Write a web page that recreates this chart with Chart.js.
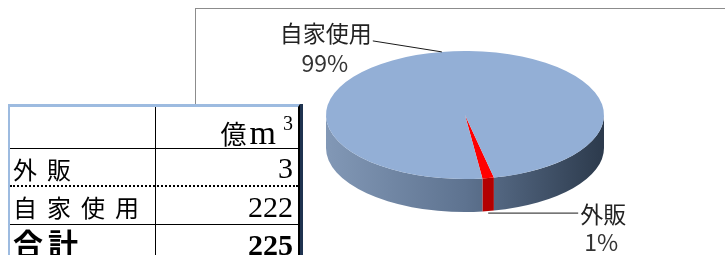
<!DOCTYPE html>
<html>
<head>
<meta charset="utf-8">
<script src="https://cdn.jsdelivr.net/npm/chart.js@4/dist/chart.umd.min.js"></script>
<style>
  html, body { margin: 0; padding: 0; background: #fff; overflow: hidden; }
  body { width: 725px; height: 255px; position: relative; }
  #frame {
    position: absolute; left: 195px; top: 8px; width: 600px; height: 300px;
    border-left: 1px solid #8c8c8c; border-top: 1px solid #8c8c8c;
  }
  #wrap { position: absolute; left: 196px; top: 9px; width: 529px; height: 246px; }
  #tbl {
    position: absolute; left: 8px; top: 104px; width: 288px; height: 170px;
    background: #fff; border-top: 3px solid #9dbbe0; border-left: 2px solid #9dbbe0;
    border-right: 2px solid #000; box-shadow: 3px 0 0 #1f3350;
    font-family: "Noto Sans CJK JP", sans-serif; color: #000;
  }
  .row { position: absolute; left: 0; width: 288px; box-sizing: border-box; }
  .row div { position: absolute; top: 0; bottom: 0; display: flex; align-items: center; line-height: 1; white-space: nowrap; }
  .c1 { left: 3px; font-size: 24px; letter-spacing: 10px; padding-top: 3px; }
  .c2 { right: 5px; font-family: "Liberation Serif", serif; font-size: 30px; padding-top: 2px; }
  #colline { position: absolute; left: 145px; top: 0; width: 1px; height: 170px; background: #000; }
  .h { top: 0; height: 42px; border-bottom: 1px solid #000; }
  .h .c2 { font-family: "Noto Sans CJK JP", sans-serif; font-size: 26px; align-items: flex-end; padding-bottom: 2px; }
  .h .unit { font-family: "Liberation Serif", serif; font-size: 34px; margin-left: 3px; line-height: 0.8; }
  .h sup { font-family: "Liberation Serif", serif; font-size: 20px; position: relative; top: -13px; margin-left: 7px; vertical-align: baseline; }
  .r1 { top: 42px; height: 38px; border-bottom: 2px dotted #000; }
  .r2 { top: 80px; height: 38px; border-bottom: 1px solid #000; }
  .r3 { top: 118px; height: 40px; font-weight: bold; }
  .r3 div { align-items: flex-start; }
  .r3 .c1 { font-size: 30px; letter-spacing: 5px; padding-top: 2px; }
  .r3 .c2 { padding-top: 5px; }
</style>
</head>
<body>
<div id="frame"></div>
<div id="wrap"><canvas id="pie"></canvas></div>
<div id="tbl"></div>
<script>
const categories = ['外販', '自家使用'];
const values = [3, 222];
const unitLabel = ['億', 'm', '3'];
const totalLabel = '合計';

const total = values.reduce((s, v) => s + v, 0);

// table
let html = '<div class="row h"><div class="c2">' + unitLabel[0] + '<span class="unit">' + unitLabel[1] + '</span><sup>' + unitLabel[2] + '</sup></div></div>';
categories.forEach((c, i) => {
    html += '<div class="row r' + (i + 1) + '"><div class="c1">' + c + '</div><div class="c2">' + values[i] + '</div></div>';
});
html += '<div class="row r3"><div class="c1">' + totalLabel + '</div><div class="c2">' + total + '</div></div>';
html += '<div id="colline"></div>';
document.getElementById('tbl').innerHTML = html;

// 3d look
const RX = 139, RY = 64, DEPTH = 33;
const topColors = ['#ff0000', '#93afd6'];
const sideColors = [['#d00000', '#a00000'], ['#8298b6', '#5e7390', '#2c3a4c']];

function sideFill(ctx, x, r, i) {
    const g = ctx.createLinearGradient(x - r, 0, x + r, 0);
    const cols = sideColors[i];
    cols.forEach((c, k) => g.addColorStop(k / (cols.length - 1), c));
    return g;
}

const pie3d = {
    id: 'pie3d',
    beforeDatasetsDraw(chart) {
        const ctx = chart.ctx;
        const arcs = chart.getDatasetMeta(0).data;
        const x = arcs[0].x, y = arcs[0].y, r = arcs[0].outerRadius;
        const sx = RX / r, sy = RY / r, d = DEPTH / sy;
        ctx.save();
        ctx.translate(x, y);
        ctx.scale(sx, sy);
        ctx.translate(-x, -y);
        arcs.forEach((a, i) => {
            for (let k = -1; k <= 2; k++) {
                const lo = Math.max(a.startAngle, k * 2 * Math.PI);
                const hi = Math.min(a.endAngle, k * 2 * Math.PI + Math.PI);
                if (hi <= lo) continue;
                ctx.beginPath();
                ctx.arc(x, y, r, lo, hi);
                ctx.arc(x, y + d, r, hi, lo, true);
                ctx.closePath();
                ctx.fillStyle = sideFill(ctx, x, r, i);
                ctx.fill();
            }
        });
    },
    afterDatasetsDraw(chart) {
        const ctx = chart.ctx;
        ctx.restore();
        const arcs = chart.getDatasetMeta(0).data;
        const offs = [
            { line: [90, 3], name: [92, 1, 'left'], pct: [113, 29] },
            { line: [-69, -11], name: [-70, -19, 'right'], pct: [-117, 11] }
        ];
        ctx.save();
        ctx.font = '23px "Noto Sans CJK JP", sans-serif';
        ctx.textBaseline = 'middle';
        ctx.strokeStyle = '#1a1a1a';
        ctx.lineWidth = 1;
        arcs.forEach((a, i) => {
            const mid = (a.startAngle + a.endAngle) / 2;
            const s = Math.sin(mid);
            const px = a.x + RX * Math.cos(mid);
            const py = a.y + RY * s + (s > 0 ? DEPTH + 2 : 0);
            const o = offs[i];
            ctx.beginPath();
            ctx.moveTo(px, py);
            if (i === 0) ctx.lineTo(px + o.line[0], py);
            else ctx.lineTo(px + o.line[0], py + o.line[1]);
            ctx.stroke();
            ctx.fillStyle = '#222';
            ctx.textAlign = o.name[2];
            ctx.fillText(categories[i], px + o.name[0], py + o.name[1]);
            ctx.textAlign = 'center';
            ctx.fillStyle = '#333';
            ctx.fillText(Math.round(values[i] / total * 100) + '%', px + o.pct[0], py + o.pct[1]);
        });
        ctx.restore();
    }
};

new Chart(document.getElementById('pie'), {
    type: 'pie',
    data: {
        labels: categories,
        datasets: [{
            data: values,
            backgroundColor: topColors,
            borderWidth: 0,
            clip: false
        }]
    },
    options: {
        responsive: true,
        maintainAspectRatio: false,
        animation: false,
        events: [],
        rotation: 168,
        layout: { padding: { left: 9, right: 0, top: 0, bottom: 34 } },
        plugins: { legend: { display: false }, tooltip: { enabled: false } }
    },
    plugins: [pie3d]
});
</script>
</body>
</html>
